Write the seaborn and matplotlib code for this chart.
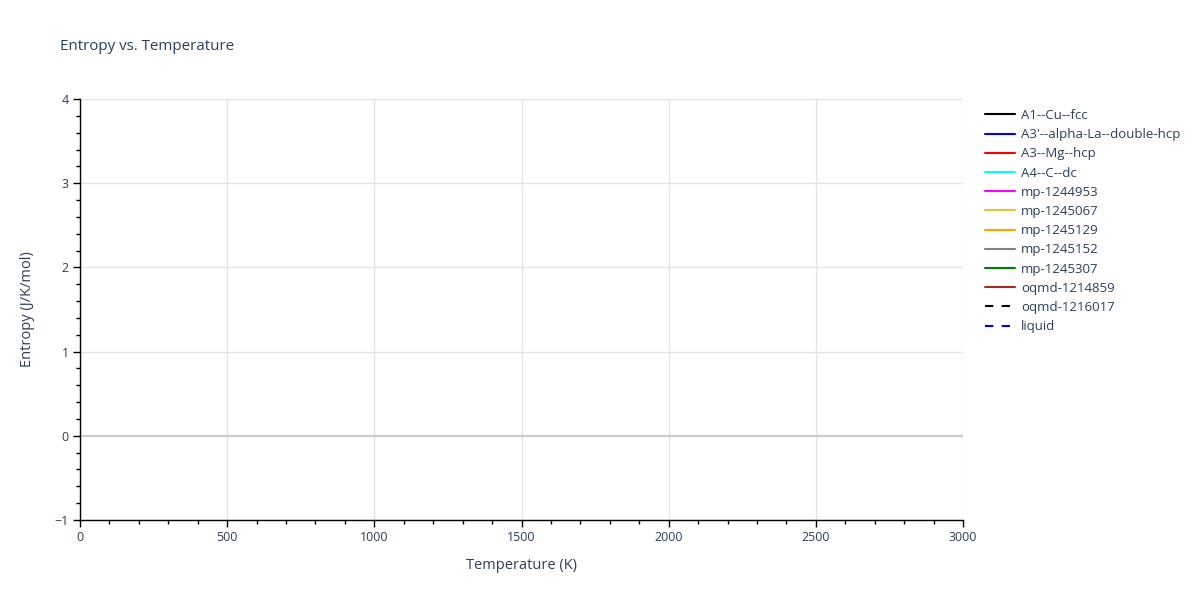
import numpy as np
import matplotlib
matplotlib.use("Agg")
import matplotlib.pyplot as plt
from matplotlib.ticker import MultipleLocator
import seaborn as sns

# series names and styles (no data points visible in the chart)
nombres = ["A1--Cu--fcc", "A3'--alpha-La--double-hcp", "A3--Mg--hcp", "A4--C--dc",
           "mp-1244953", "mp-1245067", "mp-1245129", "mp-1245152", "mp-1245307",
           "oqmd-1214859", "oqmd-1216017", "liquid"]
colores = ["black", "blue", "red", "cyan", "magenta", "#e8c23a", "orange",
           "grey", "green", "brown", "black", "blue"]
estilos = ["-"] * 10 + ["--", "--"]
temperaturas = [[] for _ in nombres]
entropias = [[] for _ in nombres]

sns.set_style("white")
plt.rcParams['font.family'] = ['Open Sans', 'DejaVu Sans']
color_texto = "#2a3f5f"

fig = plt.figure(figsize=(12, 6), dpi=100)
ax = fig.add_axes([80/1200, 1 - 520/600, (963 - 80)/1200, (520 - 99)/600])

for nom, col, est, t, s in zip(nombres, colores, estilos, temperaturas, entropias):
    sns.lineplot(x=np.array(t, dtype=float), y=np.array(s, dtype=float), ax=ax)
    ax.plot(t, s, color=col, linestyle=est, linewidth=1.5, label=nom,
            dashes=(4, 4) if est == "--" else (None, None))

ax.set_xlim(0, 3000)
ax.set_ylim(-1, 4)
ax.xaxis.set_major_locator(MultipleLocator(500))
ax.xaxis.set_minor_locator(MultipleLocator(100))
ax.yaxis.set_major_locator(MultipleLocator(1))
ax.yaxis.set_minor_locator(MultipleLocator(0.2))

ax.grid(True, which="major", color="#e5e5e5", linewidth=1)
ax.axhline(0, color="#cccccc", linewidth=1.6, zorder=1)
for lado in ["top", "right"]:
    ax.spines[lado].set_visible(False)
for lado in ["left", "bottom"]:
    ax.spines[lado].set_color("black")
    ax.spines[lado].set_linewidth(1)

ax.tick_params(which="major", direction="out", length=5, width=1, color="black",
               labelsize=9, labelcolor=color_texto, pad=3, left=True, bottom=True)
ax.tick_params(which="minor", direction="out", length=3, width=1, color="black",
               left=True, bottom=True)

ax.set_xlabel("Temperature (K)", fontsize=10.5, color=color_texto, labelpad=10)
ax.set_ylabel("Entropy (J/K/mol)", fontsize=10.5, color=color_texto, labelpad=14)
fig.text(60/1200, 1 - 47/600, "Entropy vs. Temperature", fontsize=10.9,
         color=color_texto, va="center", ha="left")

leg = ax.legend(loc="upper left", bbox_to_anchor=(985/1200, 1 - 109/600),
                bbox_transform=fig.transFigure, frameon=False, fontsize=9.5,
                handlelength=2.3, handletextpad=0.45, labelspacing=0.47,
                borderpad=0, borderaxespad=0)
for txt in leg.get_texts():
    txt.set_color(color_texto)

plt.savefig("out.png", dpi=100)
